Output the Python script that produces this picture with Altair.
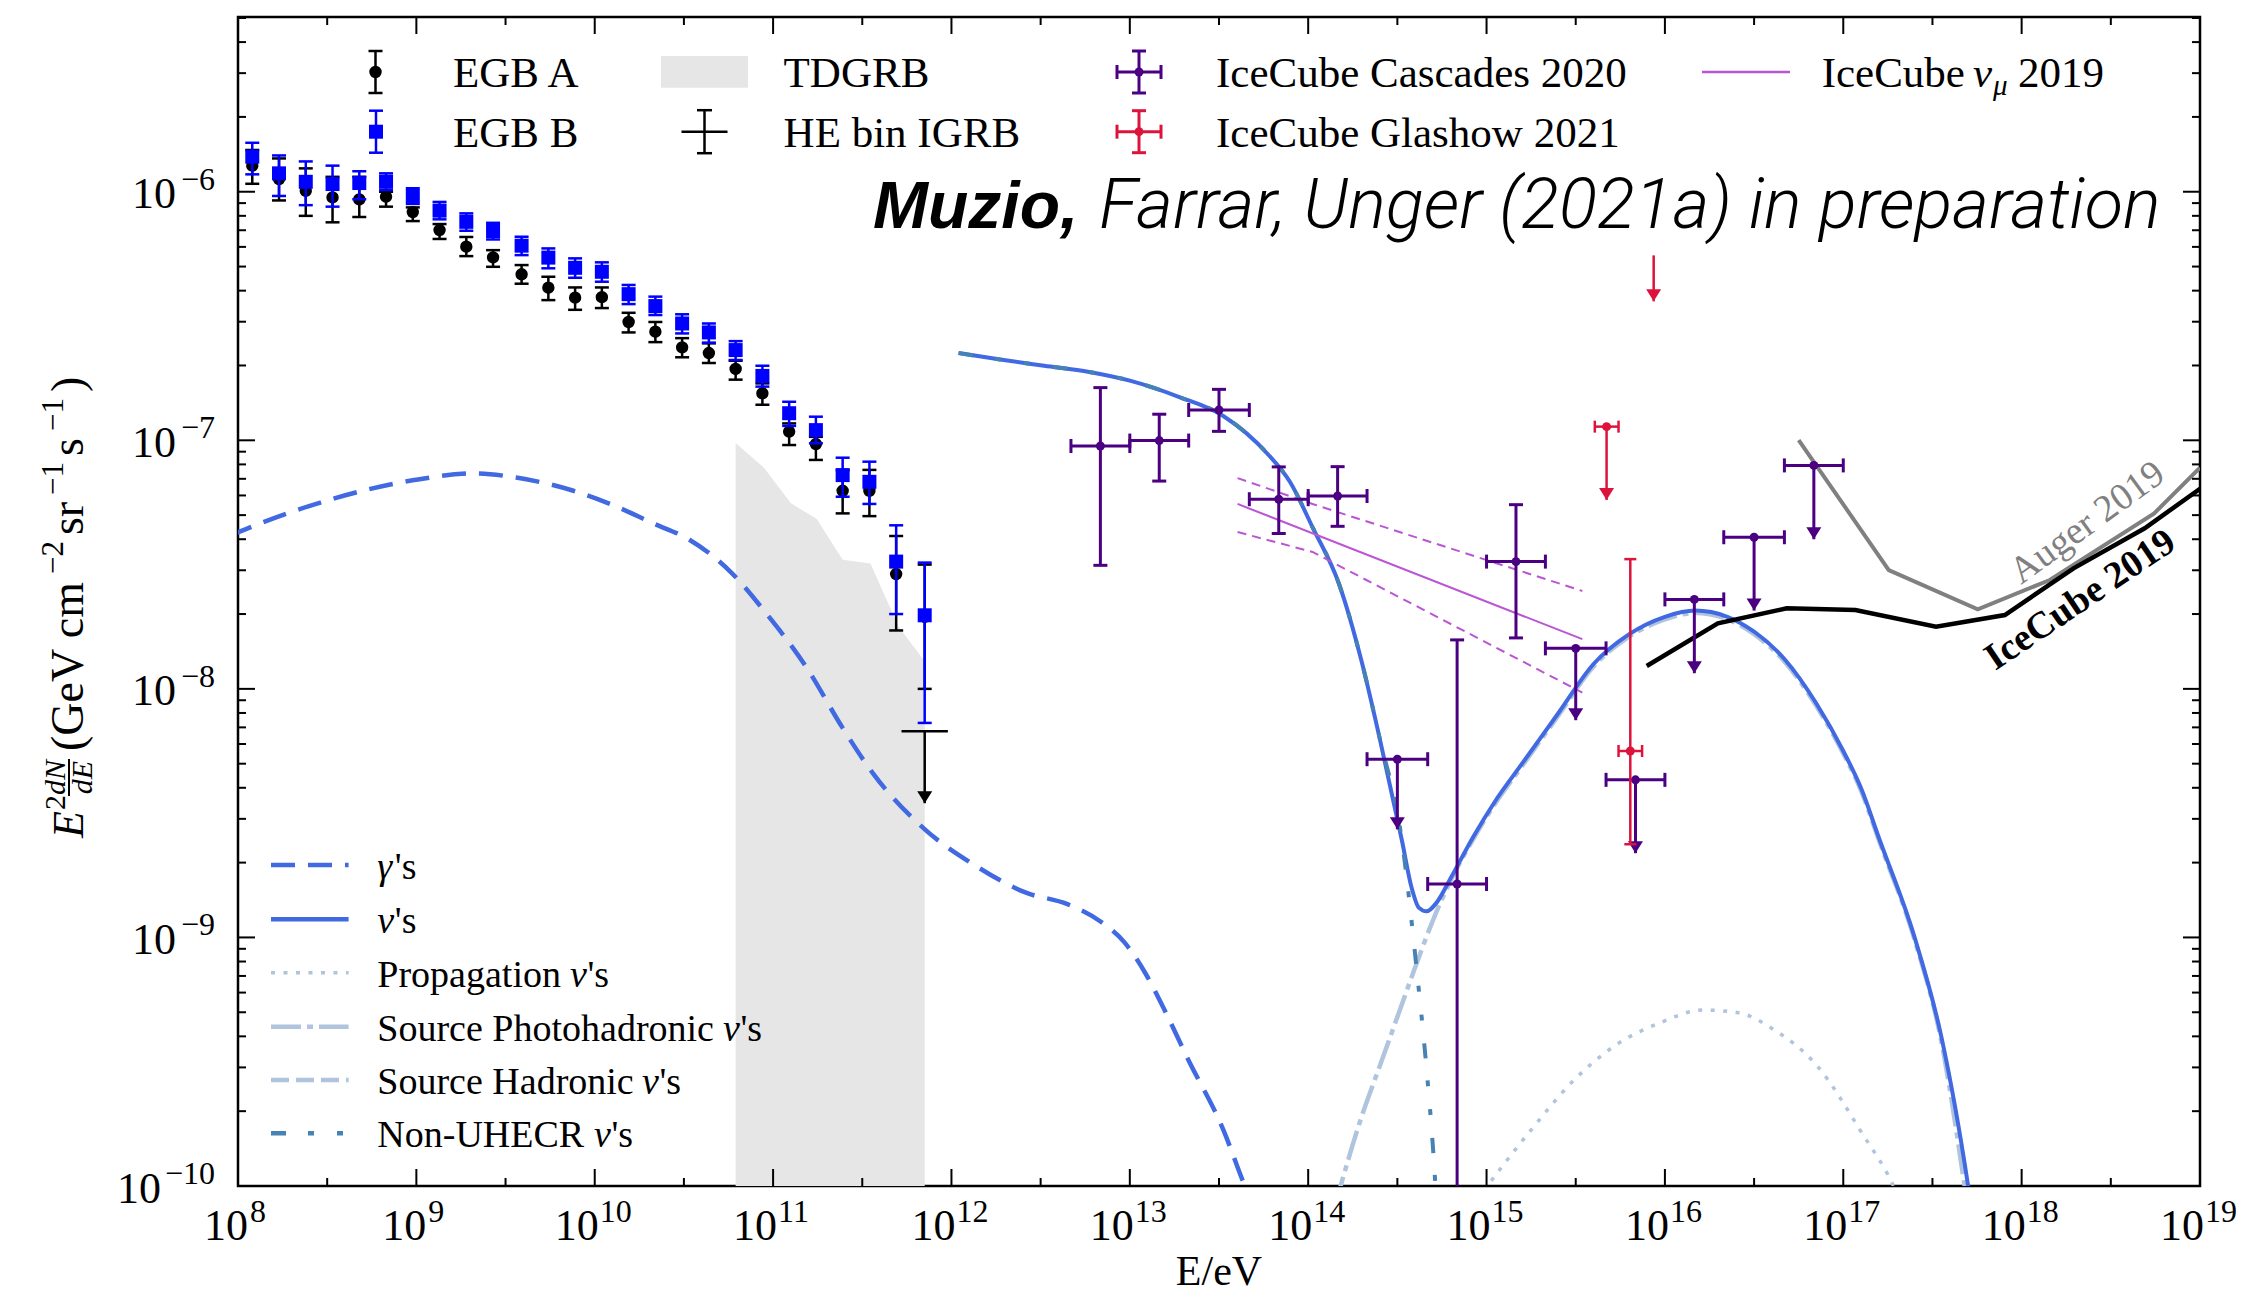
import altair as alt
import pandas as pd

W, H = 1962, 1169
SERIF = "Liberation Serif"
SANS = "Liberation Sans"

# ---------------- data (log10 values) ----------------
egb_logE = [8.08, 8.23, 8.38, 8.53, 8.68, 8.83, 8.98, 9.13, 9.28, 9.43, 9.59, 9.74, 9.89,
            10.04, 10.19, 10.34, 10.49, 10.64, 10.79, 10.94, 11.09, 11.24, 11.39, 11.54, 11.69, 11.85]
egbA_logF = [-5.895, -5.949, -5.996, -6.023, -6.031, -6.020, -6.082, -6.154, -6.221, -6.264, -6.332, -6.386, -6.426,
             -6.424, -6.524, -6.563, -6.626, -6.649, -6.713, -6.811, -6.965, -7.015, -7.203, -7.203, -7.538, -7.71]
egbA_hi = [-5.832, -5.866, -5.906, -5.940, -5.940, -6.000, -6.063, -6.130, -6.182, -6.235, -6.295, -6.342, -6.385,
           -6.385, -6.487, -6.524, -6.589, -6.610, -6.680, -6.771, -6.932, -6.986, -7.120, -7.119, -7.385, -7.50]
egbA_lo = [-5.968, -6.035, -6.097, -6.123, -6.102, -6.060, -6.118, -6.190, -6.259, -6.302, -6.370, -6.436, -6.475,
           -6.468, -6.566, -6.605, -6.666, -6.689, -6.756, -6.857, -7.019, -7.079, -7.294, -7.305, -7.765, -8.00]
egbB_logF = [-5.859, -5.926, -5.960, -5.969, -5.965, -5.960, -6.017, -6.076, -6.121, -6.158, -6.217, -6.265, -6.306,
             -6.322, -6.412, -6.460, -6.530, -6.566, -6.637, -6.741, -6.891, -6.959, -7.140, -7.167, -7.488, -7.704]
egbB_hi = [-5.803, -5.854, -5.878, -5.895, -5.918, -5.926, -5.986, -6.041, -6.087, -6.125, -6.181, -6.228, -6.268,
           -6.284, -6.375, -6.422, -6.493, -6.530, -6.601, -6.700, -6.845, -6.905, -7.070, -7.086, -7.342, -7.492]
egbB_lo = [-5.930, -6.017, -6.054, -6.060, -6.030, -5.993, -6.049, -6.111, -6.157, -6.192, -6.255, -6.308, -6.346,
           -6.362, -6.452, -6.496, -6.570, -6.607, -6.677, -6.784, -6.942, -7.012, -7.227, -7.256, -7.699, -8.137]

igrb_logE = [11.85]
igrb_logElo = [11.72]
igrb_logEhi = [11.98]
igrb_logF = [-8.17]
igrb_tip = [-8.46]

tdgrb_logE = [10.79, 10.95, 11.10, 11.245, 11.39, 11.546, 11.704, 11.85]
tdgrb_logF = [-7.011, -7.111, -7.253, -7.317, -7.481, -7.496, -7.750, -7.889]

gamma_logE = [7.95, 8.058, 8.5, 8.987, 9.33, 9.559, 9.876, 10.1, 10.331, 10.531, 10.76, 10.96, 11.189,
              11.389, 11.561, 11.846, 12.132, 12.418, 12.65, 12.844, 12.97, 13.084, 13.2, 13.325, 13.525, 13.645, 13.72]
gamma_logF = [-7.385, -7.353, -7.242, -7.160, -7.133, -7.150, -7.202, -7.260, -7.335, -7.400, -7.528, -7.695, -7.916,
              -8.156, -8.341, -8.562, -8.710, -8.820, -8.866, -8.940, -9.020, -9.140, -9.300, -9.488, -9.775, -10.0, -10.12]

nu_logE = [12.04, 12.273, 12.52, 12.773, 13.0, 13.274, 13.524, 13.774, 13.9, 14.024, 14.174, 14.299, 14.40, 14.525,
           14.58, 14.62, 14.664, 14.72, 14.80, 14.925, 15.05, 15.2, 15.4, 15.6, 15.8, 16.0, 16.17, 16.35, 16.5,
           16.67, 16.85, 17.0, 17.1, 17.2, 17.4, 17.55, 17.70, 17.75]
nu_logF = [-6.649, -6.675, -6.700, -6.725, -6.760, -6.825, -6.902, -7.056, -7.170, -7.349, -7.580, -7.888, -8.196, -8.608,
           -8.800, -8.880, -8.895, -8.860, -8.760, -8.596, -8.450, -8.300, -8.100, -7.900, -7.780, -7.710, -7.685, -7.710, -7.770,
           -7.880, -8.060, -8.250, -8.400, -8.600, -9.000, -9.400, -10.0, -10.25]

photo_logE = [14.15, 14.3, 14.4, 14.5, 14.6, 14.7, 14.8, 14.925, 15.05, 15.2, 15.4, 15.6, 15.8, 16.0, 16.17,
              16.35, 16.5, 16.67, 16.85, 17.0, 17.1, 17.2, 17.4, 17.55, 17.68, 17.73]
photo_logF = [-10.08, -9.72, -9.52, -9.32, -9.12, -8.93, -8.77, -8.605, -8.46, -8.31, -8.11, -7.91, -7.79, -7.72, -7.695,
              -7.72, -7.78, -7.89, -8.07, -8.26, -8.41, -8.61, -9.01, -9.42, -10.0, -10.25]

nonu_logE = [12.04, 12.273, 12.52, 12.773, 13.0, 13.274, 13.524, 13.774, 13.9, 14.024, 14.174, 14.299, 14.40, 14.525,
             14.61, 14.66, 14.70, 14.73]
nonu_logF = [-6.649, -6.675, -6.700, -6.725, -6.760, -6.825, -6.902, -7.056, -7.170, -7.349, -7.580, -7.888, -8.196, -8.608,
             -9.14, -9.50, -9.85, -10.2]

prop_logE = [14.9, 15.249, 15.49, 15.731, 15.971, 16.212, 16.412, 16.613, 16.853, 17.094, 17.30, 17.35]
prop_logF = [-10.1, -9.775, -9.574, -9.430, -9.344, -9.292, -9.303, -9.372, -9.516, -9.775, -10.03, -10.12]

casc_logE = [12.835, 13.165, 13.5, 13.835, 14.165, 14.5, 14.835, 15.165, 15.5, 15.835, 16.165, 16.5, 16.835]
casc_logElo = [12.67, 13.0, 13.33, 13.67, 14.0, 14.33, 14.67, 15.0, 15.33, 15.67, 16.0, 16.33, 16.67]
casc_logEhi = [13.0, 13.33, 13.67, 14.0, 14.33, 14.67, 15.0, 15.33, 15.67, 16.0, 16.33, 16.67, 17.0]
casc_logF = [-7.023, -7.001, -6.878, -7.237, -7.224, -8.283, -8.785, -7.488, -7.837, -8.366, -7.640, -7.390, -7.101]
casc_logFhi = [-6.788, -6.895, -6.795, -7.107, -7.106, None, -7.803, -7.259, None, None, None, None, None]
casc_logFlo = [-7.503, -7.164, -6.964, -7.375, -7.346, -8.565, -10.5, -7.795, -8.126, -8.661, -7.937, -7.685, -7.398]

gl_logE = [15.673, 15.806]
gl_logElo = [15.607, 15.740]
gl_logEhi = [15.740, 15.872]
gl_logF = [-6.945, -8.250]
gl_logFhi = [None, -7.478]
gl_logFlo = [-7.240, -8.625]
gl3_logE = [15.937]
gl3_top = [-6.256]
gl3_tip = [-6.441]

numu_logE = [13.604, 15.537]
numu_logF = [-7.256, -7.800]
numu_up_logE = [13.604, 14.024, 15.537]
numu_up_logF = [-7.152, -7.256, -7.606]
numu_dn_logE = [13.604, 14.024, 15.537]
numu_dn_logF = [-7.369, -7.449, -8.015]

auger_logE = [16.75, 17.255, 17.754, 18.158, 18.743, 19.0]
auger_logF = [-6.999, -7.522, -7.680, -7.562, -7.294, -7.110]
ic19_logE = [15.898, 16.297, 16.683, 17.068, 17.520, 17.906, 18.291, 18.690, 19.0]
ic19_logF = [-7.908, -7.736, -7.676, -7.683, -7.750, -7.703, -7.515, -7.354, -7.195]

x_tick_exp = [8, 9, 10, 11, 12, 13, 14, 15, 16, 17, 18, 19]
x_tick_lab = ["8", "9", "10", "11", "12", "13", "14", "15", "16", "17", "18", "19"]
y_tick_exp = [-10, -9, -8, -7, -6]
y_tick_lab = ["\u221210", "\u22129", "\u22128", "\u22127", "\u22126"]

Y_TOP = 10 ** -5.297

# ---------------- helpers ----------------
def P(v):
    return [None if a is None else 10.0 ** a for a in v]

XS = alt.Scale(type="log", domain=[1e8, 1e19], nice=False)
YS = alt.Scale(type="log", domain=[1e-10, Y_TOP], nice=False)

def ex(f):
    return alt.X(f, type="quantitative", scale=XS, axis=None)

def ey(f):
    return alt.Y(f, type="quantitative", scale=YS, axis=None)

one = pd.DataFrame({"a": [0]})
ARROW = "M-1,-1.6L1,-1.6L0,0Z"

def line(logE, logF, color, sw, dash=None, smooth=False):
    d = pd.DataFrame({"E": P(logE), "F": P(logF), "i": list(range(len(logE)))})
    kw = dict(color=color, strokeWidth=sw, clip=True)
    if dash:
        kw["strokeDash"] = dash
    if smooth:
        kw["interpolate"] = "monotone"
    return alt.Chart(d).mark_line(**kw).encode(x=ex("E"), y=ey("F"), order="i:Q")

def vrule(d, ylo, yhi, color, sw):
    return alt.Chart(d).mark_rule(color=color, strokeWidth=sw, clip=True).encode(
        x=ex("E"), y=ey(ylo), y2=alt.Y2(yhi))

def hrule(d, color, sw):
    return alt.Chart(d).mark_rule(color=color, strokeWidth=sw, clip=True).encode(
        x=ex("Elo"), x2=alt.X2("Ehi"), y=ey("F"))

def hcap(d, yf, color, size=14, sw=2.5):
    return alt.Chart(d).mark_tick(orient="horizontal", size=size, thickness=sw, color=color,
                                  opacity=1, clip=True).encode(x=ex("E"), y=ey(yf))

def vcap(d, xf, color, size=14, sw=2.5):
    return alt.Chart(d).mark_tick(orient="vertical", size=size, thickness=sw, color=color,
                                  opacity=1, clip=True).encode(x=ex(xf), y=ey("F"))

def arrow(d, yf, color, size=225):
    return alt.Chart(d).mark_point(shape=ARROW, filled=True, size=size, color=color, opacity=1,
                                   strokeWidth=0, clip=True).encode(x=ex("E"), y=ey(yf))

def seg(x1, y1, x2, y2, color, sw, dash=None):
    kw = dict(color=color, strokeWidth=sw)
    if dash:
        kw["strokeDash"] = dash
    return alt.Chart(one).mark_rule(**kw).encode(
        x=alt.value(x1), x2=alt.value(x2), y=alt.value(y1), y2=alt.value(y2))

def T(x, y, s, size, font=SERIF, style="normal", weight="normal", color="black",
      align="left", baseline="alphabetic", angle=0):
    return alt.Chart(one).mark_text(text=s, font=font, fontSize=size, fontStyle=style,
                                    fontWeight=weight, color=color, align=align,
                                    baseline=baseline, angle=angle).encode(
        x=alt.value(x), y=alt.value(y))

def sym(x, y, shape, size, color):
    return alt.Chart(one).mark_point(shape=shape, size=size, filled=True, color=color,
                                     opacity=1, strokeWidth=0).encode(x=alt.value(x), y=alt.value(y))

layers = []

# TDGRB band
td = pd.DataFrame({"E": P(tdgrb_logE), "F": P(tdgrb_logF), "B": [1e-10] * len(tdgrb_logE)})
layers.append(alt.Chart(td).mark_area(color="#e6e6e6", clip=True).encode(
    x=ex("E"), y=ey("F"), y2=alt.Y2("B")))

# model curves
ROYAL = "#4169E1"
LSB = "#B0C4DE"
STEEL = "#4682B4"
layers.append(line(gamma_logE, gamma_logF, ROYAL, 4.5, [24, 13], smooth=True))
layers.append(line(prop_logE, prop_logF, LSB, 3.5, [4, 8.5], smooth=True))
layers.append(line(photo_logE, photo_logF, LSB, 4.5, [30, 6, 6, 6], smooth=True))
layers.append(line(nu_logE, nu_logF, ROYAL, 4, smooth=True))
layers.append(line(nonu_logE, nonu_logF, STEEL, 4, [15, 22, 6, 23, 6, 23], smooth=True))

# IceCube numu 2019
ORCHID = "#BA55D3"
layers.append(line(numu_logE, numu_logF, ORCHID, 2))
layers.append(line(numu_up_logE, numu_up_logF, ORCHID, 2, [9, 6]))
layers.append(line(numu_dn_logE, numu_dn_logF, ORCHID, 2, [9, 6]))

# sensitivities
layers.append(line(auger_logE, auger_logF, "#808080", 4))
layers.append(line(ic19_logE, ic19_logF, "black", 4.5))

# EGB A
ea = pd.DataFrame({"E": P(egb_logE), "F": P(egbA_logF), "hi": P(egbA_hi), "lo": P(egbA_lo)})
layers += [vrule(ea, "lo", "hi", "black", 2.5), hcap(ea, "hi", "black"), hcap(ea, "lo", "black"),
           alt.Chart(ea).mark_circle(size=154, color="black", opacity=1).encode(x=ex("E"), y=ey("F"))]
# EGB B
eb = pd.DataFrame({"E": P(egb_logE), "F": P(egbB_logF), "hi": P(egbB_hi), "lo": P(egbB_lo)})
layers += [vrule(eb, "lo", "hi", "#0000FF", 2.5), hcap(eb, "hi", "#0000FF"), hcap(eb, "lo", "#0000FF"),
           alt.Chart(eb).mark_square(size=196, color="#0000FF", opacity=1).encode(x=ex("E"), y=ey("F"))]
# HE bin IGRB
ig = pd.DataFrame({"E": P(igrb_logE), "Elo": P(igrb_logElo), "Ehi": P(igrb_logEhi),
                   "F": P(igrb_logF), "tip": P(igrb_tip)})
layers += [hrule(ig, "black", 2.5), vrule(ig, "tip", "F", "black", 2.5), arrow(ig, "tip", "black")]

# IceCube cascades 2020
INDIGO = "#4B0082"
cdf = pd.DataFrame({"E": P(casc_logE), "Elo": P(casc_logElo), "Ehi": P(casc_logEhi),
                    "F": P(casc_logF), "hi": P(casc_logFhi), "lo": P(casc_logFlo)})
c_err = cdf[cdf["hi"].notna()]
c_ul = cdf[cdf["hi"].isna()]
layers += [hrule(cdf, INDIGO, 3), vcap(cdf, "Elo", INDIGO, 14, 3), vcap(cdf, "Ehi", INDIGO, 14, 3),
           vrule(c_err, "lo", "hi", INDIGO, 3), hcap(c_err, "hi", INDIGO, 14, 3), hcap(c_err, "lo", INDIGO, 14, 3),
           vrule(c_ul, "lo", "F", INDIGO, 3), arrow(c_ul, "lo", INDIGO),
           alt.Chart(cdf).mark_circle(size=80, color=INDIGO, opacity=1).encode(x=ex("E"), y=ey("F"))]

# IceCube Glashow 2021
CRIMSON = "#DC143C"
gdf = pd.DataFrame({"E": P(gl_logE), "Elo": P(gl_logElo), "Ehi": P(gl_logEhi),
                    "F": P(gl_logF), "hi": P(gl_logFhi), "lo": P(gl_logFlo)})
g_err = gdf[gdf["hi"].notna()]
g_ul = gdf[gdf["hi"].isna()]
g3 = pd.DataFrame({"E": P(gl3_logE), "F": P(gl3_top), "lo": P(gl3_tip)})
layers += [hrule(gdf, CRIMSON, 2.5), vcap(gdf, "Elo", CRIMSON, 12, 2.5), vcap(gdf, "Ehi", CRIMSON, 12, 2.5),
           vrule(g_err, "lo", "hi", CRIMSON, 2.5), hcap(g_err, "hi", CRIMSON, 12, 2.5), hcap(g_err, "lo", CRIMSON, 12, 2.5),
           vrule(g_ul, "lo", "F", CRIMSON, 2.5), arrow(g_ul, "lo", CRIMSON),
           vrule(g3, "lo", "F", CRIMSON, 2.5), arrow(g3, "lo", CRIMSON),
           alt.Chart(gdf).mark_circle(size=80, color=CRIMSON, opacity=1).encode(x=ex("E"), y=ey("F"))]

# curve labels
lab = pd.DataFrame({"E": P([18.37]), "F": P([-7.333]), "t": ["Auger 2019"]})
layers.append(alt.Chart(lab).mark_text(font=SERIF, fontSize=38, color="#808080", angle=324,
                                       align="center", baseline="middle").encode(x=ex("E"), y=ey("F"), text="t:N"))
lab2 = pd.DataFrame({"E": P([18.33]), "F": P([-7.643]), "t": ["IceCube 2019"]})
layers.append(alt.Chart(lab2).mark_text(font=SERIF, fontSize=38, fontWeight="bold", color="black", angle=326,
                                        align="center", baseline="middle").encode(x=ex("E"), y=ey("F"), text="t:N"))

# ---------------- ticks (inward, all four sides) ----------------
xt_major = pd.DataFrame({"v": [10.0 ** k for k in x_tick_exp]})
xt_minor = pd.DataFrame({"v": [10.0 ** (k + 0.5) for k in x_tick_exp[:-1]]})
yt_major = pd.DataFrame({"v": [10.0 ** k for k in y_tick_exp]})
yt_minor = pd.DataFrame({"v": [m * 10.0 ** k for k in y_tick_exp for m in range(2, 10) if m * 10.0 ** k < Y_TOP]})
for d, ln in ((xt_major, 17), (xt_minor, 8)):
    layers.append(alt.Chart(d).mark_rule(color="black", strokeWidth=2).encode(
        x=ex("v"), y=alt.value(H), y2=alt.value(H - ln)))
    layers.append(alt.Chart(d).mark_rule(color="black", strokeWidth=2).encode(
        x=ex("v"), y=alt.value(0), y2=alt.value(ln)))
for d, ln in ((yt_major, 17), (yt_minor, 8)):
    layers.append(alt.Chart(d).mark_rule(color="black", strokeWidth=2).encode(
        y=ey("v"), x=alt.value(0), x2=alt.value(ln)))
    layers.append(alt.Chart(d).mark_rule(color="black", strokeWidth=2).encode(
        y=ey("v"), x=alt.value(W), x2=alt.value(W - ln)))

# ---------------- tick labels ----------------
xl = pd.DataFrame({"E": [10.0 ** k for k in x_tick_exp], "b": ["10"] * len(x_tick_exp), "e": x_tick_lab,
                   "n": [len(s) for s in x_tick_lab]})
for n, dxb, dxe in ((1, 10, 12), (2, 4, 5)):
    sub = xl[xl["n"] == n]
    layers.append(alt.Chart(sub).mark_text(font=SERIF, fontSize=44, align="right", baseline="alphabetic",
                                           dx=dxb, color="black").encode(x=ex("E"), y=alt.value(H + 54), text="b:N"))
    layers.append(alt.Chart(sub).mark_text(font=SERIF, fontSize=32, align="left", baseline="alphabetic",
                                           dx=dxe, color="black").encode(x=ex("E"), y=alt.value(H + 36), text="e:N"))
yl = pd.DataFrame({"F": [10.0 ** k for k in y_tick_exp], "b": ["10"] * len(y_tick_exp), "e": y_tick_lab,
                   "n": [len(s) for s in y_tick_lab]})
for n, xb in ((2, -62), (3, -77)):
    sub = yl[yl["n"] == n]
    layers.append(alt.Chart(sub).mark_text(font=SERIF, fontSize=44, align="right", baseline="alphabetic",
                                           dy=16.5, color="black").encode(y=ey("F"), x=alt.value(xb), text="b:N"))
    layers.append(alt.Chart(sub).mark_text(font=SERIF, fontSize=32, align="right", baseline="alphabetic",
                                           dy=-2, color="black").encode(y=ey("F"), x=alt.value(-23), text="e:N"))

# axis titles
layers.append(T(W / 2, H + 99, "E/eV", 42, align="center"))
# y title: E^2 dN/dE (GeV cm^-2 sr^-1 s^-1), rotated
layers.append(T(-155, 821, "E", 44, style="italic", angle=270))
layers.append(T(-173, 793, "2", 30, angle=270))
layers.append(T(-173, 778, "dN", 30, style="italic", angle=270))
layers.append(seg(-169, 779, -169, 742, "black", 2))
layers.append(T(-146, 760.5, "dE", 30, style="italic", angle=270, align="center"))
ypos = 734
widths = {"(GeV cm": 169.9, "sr": 33.2, "s": 17.9, ")": 15.3}
for piece, sup in (("(GeV cm", False), ("\u22122", True), ("sr", False), ("\u22121", True),
                   ("s", False), ("\u22121", True), (")", False)):
    if sup:
        layers.append(T(-175, ypos - 7, piece, 31, angle=270))
        ypos -= 46
    else:
        layers.append(T(-155, ypos, piece, 46, angle=270))
        ypos -= widths[piece]

# title
layers.append(T(635, 211, "Muzio,", 66, font=SANS, style="italic", weight="bold"))
layers.append(T(861, 211, "Farrar, Unger (2021a) in preparation", 70.5, font="Roboto", style="italic", weight=300))

# ---------------- upper legend ----------------
FS = 43
r1, r2 = 55, 114.7
b1, b2 = 70, 130
# EGB A
layers += [seg(137.5, r1 - 21, 137.5, r1 + 21, "black", 2.5), seg(130.5, r1 - 21, 144.5, r1 - 21, "black", 2.5),
           seg(130.5, r1 + 21, 144.5, r1 + 21, "black", 2.5), sym(137.5, r1, "circle", 154, "black"),
           T(215, b1, "EGB A", FS)]
# EGB B
layers += [seg(138, r2 - 21, 138, r2 + 21, "#0000FF", 2.5), seg(131, r2 - 21, 145, r2 - 21, "#0000FF", 2.5),
           seg(131, r2 + 21, 145, r2 + 21, "#0000FF", 2.5), sym(138, r2, "square", 196, "#0000FF"),
           T(215, b2, "EGB B", FS)]
# TDGRB
layers += [alt.Chart(one).mark_rect(color="#e6e6e6").encode(x=alt.value(423), x2=alt.value(510),
                                                           y=alt.value(39), y2=alt.value(70.7)),
           T(545.6, b1, "TDGRB", FS)]
# HE bin IGRB
layers += [seg(443.5, r2, 489.5, r2, "black", 2.5), seg(466.5, r2 - 21.5, 466.5, r2 + 21.5, "black", 2.5),
           seg(459, r2 - 21.5, 474, r2 - 21.5, "black", 2.5), seg(459, r2 + 21.5, 474, r2 + 21.5, "black", 2.5),
           T(545.6, b2, "HE bin IGRB", FS)]
# IceCube cascades / Glashow
for cy, col, bl, name in ((r1, INDIGO, b1, "IceCube Cascades 2020"), (r2, CRIMSON, b2, "IceCube Glashow 2021")):
    cx = 901
    layers += [seg(cx - 22, cy, cx + 22, cy, col, 3),
               seg(cx - 22, cy - 7, cx - 22, cy + 7, col, 3), seg(cx + 22, cy - 7, cx + 22, cy + 7, col, 3),
               seg(cx, cy - 21, cx, cy + 21, col, 3),
               seg(cx - 7, cy - 21, cx + 7, cy - 21, col, 3), seg(cx - 7, cy + 21, cx + 7, cy + 21, col, 3),
               sym(cx, cy, "circle", 80, col), T(978, bl, name, FS)]
# IceCube numu 2019
layers += [seg(1464, r1, 1552, r1, ORCHID, 2.5), T(1583.7, b1, "IceCube", FS),
           T(1735, b1, "\u03bd", FS, style="italic"), T(1755, b1 + 8, "\u03bc", 29, style="italic"),
           T(1780, b1, "2019", FS)]

# ---------------- lower legend ----------------
FS2 = 38
rows = [848, 902.3, 955.7, 1009.7, 1063, 1116.3]
leg2 = [
    (ROYAL, 4.5, [24, 13], "", "\u03b3", 139.3),
    (ROYAL, 4.5, None, "", "\u03bd", 139.3),
    (LSB, 3.5, [4, 8.5], "Propagation", "\u03bd", 332),
    (LSB, 4.5, [30, 6, 6, 6], "Source Photohadronic", "\u03bd", 485),
    (LSB, 4.5, [18, 7], "Source Hadronic", "\u03bd", 404),
    (STEEL, 4.5, [15, 22, 6, 23, 6, 23], "Non-UHECR", "\u03bd", 356),
]
for yy, (col, sw, dash, pre, greek, gx) in zip(rows, leg2):
    layers.append(seg(33, yy, 110.6, yy, col, sw, dash))
    if pre:
        layers.append(T(139.3, yy + 14, pre, FS2))
    layers.append(T(gx, yy + 14, greek, FS2, style="italic"))
    layers.append(T(gx + 17.5, yy + 14, "'s", FS2))

chart = alt.layer(*layers).properties(
    width=W, height=H,
    padding={"left": 238, "top": 17, "right": 44, "bottom": 114},
    autosize=alt.AutoSizeParams(type="none"),
    background="white",
).configure_view(stroke="black", strokeWidth=2.5)

chart.save("out.html", embed_options={"renderer": "svg", "actions": False})
